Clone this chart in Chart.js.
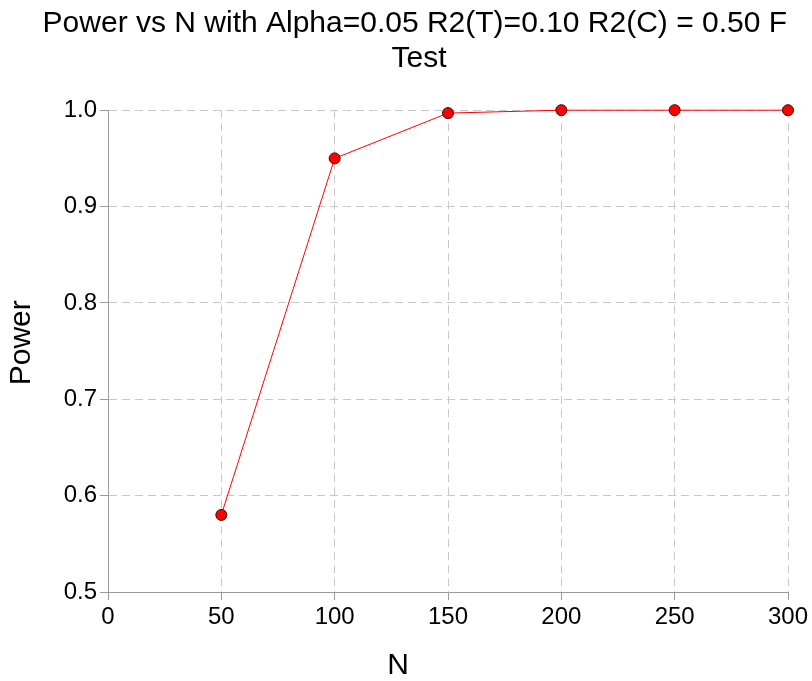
<!DOCTYPE html>
<html>
<head>
<meta charset="utf-8">
<script src="https://cdn.jsdelivr.net/npm/chart.js@4/dist/chart.umd.min.js"></script>
<style>
  html, body { margin: 0; padding: 0; background: #fff; }
  #wrap { width: 812px; height: 681px; }
</style>
</head>
<body>
<div id="wrap"><canvas id="powerChart"></canvas></div>
<script>
const nValues = [50, 100, 150, 200, 250, 300];
const powerValues = [0.580, 0.950, 0.997, 1.000, 1.000, 1.000];
const titleLines = ['Power vs N with Alpha=0.05 R2(T)=0.10 R2(C) = 0.50 F', 'Test'];

document.addEventListener('DOMContentLoaded', function() {
    const fontFamily = '"Liberation Sans", Arial, sans-serif';
    const gridColor = '#c8c8c8';
    const axisColor = '#9a9a9a';

    // leading/trailing spaces nudge the centred texts to where the original sits
    const shiftedTitle = [' '.repeat(5) + titleLines[0], ' '.repeat(6) + titleLines[1]];

    const ctx = document.getElementById('powerChart').getContext('2d');
    new Chart(ctx, {
        type: 'scatter',
        data: {
            datasets: [{
                label: 'Power',
                data: nValues.map((n, i) => ({ x: n, y: powerValues[i] })),
                showLine: true,
                clip: false,
                borderColor: '#ff0000',
                borderWidth: 1,
                backgroundColor: '#ff0000',
                pointBackgroundColor: '#ff0000',
                pointBorderColor: '#400000',
                pointBorderWidth: 1,
                pointRadius: 5.5,
                pointHoverRadius: 5.5
            }]
        },
        options: {
            responsive: true,
            maintainAspectRatio: false,
            animation: false,
            layout: {
                padding: { top: 0, right: 24, bottom: 0, left: 0 }
            },
            plugins: {
                legend: { display: false },
                tooltip: { enabled: false },
                title: {
                    display: true,
                    text: shiftedTitle,
                    color: '#000',
                    font: { family: fontFamily, size: 30, weight: 'normal', lineHeight: 1.17 },
                    padding: { top: 6, bottom: 34 }
                }
            },
            scales: {
                x: {
                    type: 'linear',
                    min: 0,
                    max: 300,
                    afterFit: scale => { scale.height = 89; },
                    ticks: {
                        stepSize: 50,
                        color: '#000',
                        padding: 3,
                        font: { family: fontFamily, size: 24 }
                    },
                    grid: {
                        color: gridColor,
                        tickColor: axisColor,
                        tickLength: 8,
                        tickBorderDash: []
                    },
                    border: { display: true, color: axisColor, width: 1, dash: [8, 5] },
                    title: {
                        display: true,
                        text: 'N' + ' '.repeat(12),
                        color: '#000',
                        font: { family: fontFamily, size: 30, lineHeight: 1.0 },
                        padding: { top: 0, bottom: 0 }
                    }
                },
                y: {
                    type: 'linear',
                    min: 0.5,
                    max: 1.0,
                    afterFit: scale => { scale.width = 108; },
                    ticks: {
                        stepSize: 0.1,
                        color: '#000',
                        padding: 3,
                        font: { family: fontFamily, size: 24 },
                        callback: v => v.toFixed(1)
                    },
                    grid: {
                        color: gridColor,
                        tickColor: axisColor,
                        tickLength: 8,
                        tickBorderDash: []
                    },
                    border: { display: true, color: axisColor, width: 1, dash: [8, 5] },
                    title: {
                        display: true,
                        text: '  Power',
                        color: '#000',
                        font: { family: fontFamily, size: 30, lineHeight: 1.0 },
                        padding: { top: 7, bottom: 0 }
                    }
                }
            }
        }
    });
});
</script>
</body>
</html>
